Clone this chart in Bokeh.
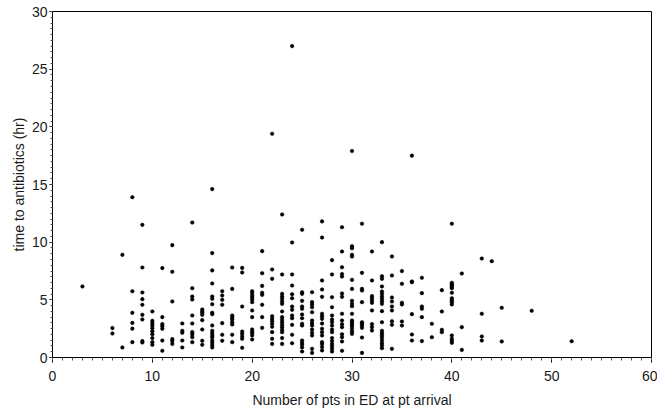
from bokeh.plotting import figure
from bokeh.models import ColumnDataSource, FixedTicker, Range1d
from bokeh.embed import file_html
from bokeh.resources import INLINE

# Number of patients in ED at patient arrival (x) and time to antibiotics in hours (y)
pts_in_ed = [
    3,
    6, 6,
    7, 7,
    8, 8, 8, 8, 8, 8,
    9, 9, 9, 9, 9, 9, 9, 9, 9,
    10, 10, 10, 10, 10, 10, 10, 10, 10, 10,
    11, 11, 11, 11, 11, 11, 11,
    12, 12, 12, 12, 12, 12,
    13, 13, 13, 13, 13,
    14, 14, 14, 14, 14, 14, 14, 14, 14, 14,
    15, 15, 15, 15, 15, 15, 15, 15,
    16, 16, 16, 16, 16, 16, 16, 16, 16, 16, 16, 16, 16, 16, 16, 16, 16, 16,
    17, 17, 17, 17, 17, 17, 17,
    18, 18, 18, 18, 18, 18, 18, 18, 18,
    19, 19, 19, 19, 19, 19, 19, 19,
    20, 20, 20, 20, 20, 20, 20, 20, 20, 20, 20, 20, 20,
    21, 21, 21, 21, 21, 21, 21, 21,
    22, 22, 22, 22, 22, 22, 22, 22, 22, 22, 22,
    23, 23, 23, 23, 23, 23, 23, 23, 23, 23, 23, 23, 23, 23, 23, 23, 23,
    24, 24, 24, 24, 24, 24, 24, 24, 24, 24, 24, 24, 24,
    25, 25, 25, 25, 25, 25, 25, 25, 25, 25, 25, 25, 25, 25, 25,
    26, 26, 26, 26, 26, 26, 26, 26, 26, 26, 26, 26, 26,
    27, 27, 27, 27, 27, 27, 27, 27, 27, 27, 27, 27, 27, 27, 27, 27,
    28, 28, 28, 28, 28, 28, 28, 28, 28, 28, 28, 28, 28, 28, 28, 28,
    29, 29, 29, 29, 29, 29, 29, 29, 29, 29, 29, 29, 29, 29, 29,
    30, 30, 30, 30, 30, 30, 30, 30, 30, 30, 30, 30, 30, 30, 30, 30, 30, 30,
    31, 31, 31, 31, 31, 31, 31, 31, 31, 31, 31,
    32, 32, 32, 32, 32, 32, 32, 32, 32, 32,
    33, 33, 33, 33, 33, 33, 33, 33, 33, 33, 33, 33, 33, 33, 33, 33, 33, 33, 33, 33,
    34, 34, 34, 34, 34, 34, 34, 34, 34,
    35, 35, 35, 35, 35, 35,
    36, 36, 36, 36, 36, 36,
    37, 37, 37, 37, 37, 37,
    38, 38,
    39, 39, 39, 39,
    40, 40, 40, 40, 40, 40, 40, 40, 40, 40, 40, 40, 40, 40, 40,
    41, 41, 41,
    43, 43, 43, 43,
    44,
    45, 45,
    48,
    52,
]

hours_to_abx = [
    6.16,
    2.55, 2.08,
    8.9, 0.87,
    13.9, 5.75, 3.87, 3.0, 2.5, 1.33,
    11.5, 7.8, 5.64, 5.06, 4.57, 3.70, 3.3, 1.42, 1.3,
    3.99, 3.18, 2.98, 2.77, 2.54, 2.28, 2.02, 1.68, 1.33, 1.10,
    7.75, 3.50, 2.89, 2.72, 2.49, 1.47, 0.58,
    9.74, 7.43, 4.86, 1.59, 1.42, 1.18,
    2.95, 2.31, 2.14, 1.47, 0.87,
    11.7, 6.01, 5.29, 5.03, 3.64, 2.95, 2.20, 1.99, 1.76, 1.33,
    4.16, 3.99, 3.87, 3.70, 3.24, 2.43, 1.45, 1.10,
    14.6, 9.05, 7.55, 6.42, 5.29, 5.09, 4.62, 3.88, 3.76, 2.78, 2.31, 2.11, 1.91, 1.73, 1.47, 1.27, 1.06, 0.87,
    5.75, 5.38, 5.0, 4.57, 2.98, 1.97, 1.45,
    7.80, 5.95, 3.64, 3.47, 3.29, 3.06, 2.86, 1.97, 1.33,
    7.77, 7.37, 4.42, 2.25, 2.05, 1.82, 1.62, 0.84,
    5.75, 5.58, 5.38, 5.20, 5.03, 4.80, 4.08, 3.50, 2.43, 2.25, 2.11, 1.91, 1.56,
    9.22, 7.31, 6.21, 5.61, 5.43, 4.57, 3.50, 2.57,
    19.4, 7.63, 6.82, 3.58, 3.35, 3.15, 2.92, 2.66, 2.20, 1.62, 1.18,
    12.4, 7.20, 5.52, 5.29, 5.09, 4.86, 4.65, 3.99, 3.50, 3.27, 3.06, 2.83, 2.63, 2.40, 2.20, 1.68, 1.18,
    27.0, 9.97, 7.20, 6.24, 5.49, 5.14, 4.42, 4.13, 3.64, 3.41, 2.83, 1.97, 1.24,
    11.07, 5.66, 5.52, 4.91, 4.42, 4.22, 3.73, 3.41, 2.92, 2.77, 1.47, 1.27, 1.10, 0.87, 0.52,
    5.66, 4.80, 4.60, 4.36, 3.93, 3.21, 2.98, 2.77, 2.43, 2.14, 1.91, 0.75, 0.40,
    11.8, 10.40, 6.68, 5.90, 5.26, 3.79, 3.58, 3.35, 2.95, 2.49, 2.20, 1.91, 1.33, 1.16, 0.90, 0.61,
    8.44, 7.20, 5.23, 4.36, 3.64, 3.29, 3.06, 2.77, 2.43, 2.20, 1.68, 1.42, 1.16, 0.98, 0.75, 0.52,
    11.3, 9.19, 7.83, 7.23, 7.02, 5.55, 5.26, 3.79, 3.21, 2.89, 2.63, 2.02, 1.76, 1.39, 0.58,
    17.9, 9.65, 9.48, 8.90, 8.76, 6.73, 5.95, 4.91, 4.65, 4.45, 3.79, 3.21, 3.06, 2.89, 2.72, 2.49, 2.25, 2.05,
    11.6, 7.34, 5.95, 5.81, 4.80, 3.06, 2.92, 2.77, 2.57, 1.73, 0.40,
    9.19, 6.68, 5.32, 5.14, 4.94, 4.74, 4.08, 2.89, 2.63, 2.34,
    10.0, 7.05, 6.82, 6.16, 5.72, 5.52, 5.29, 5.09, 4.88, 4.65, 4.02, 3.06, 2.31, 2.11, 1.91, 1.71, 1.47, 1.24, 1.04, 0.81,
    8.76, 7.11, 5.20, 4.86, 4.42, 4.08, 3.15, 2.83, 0.75,
    7.49, 6.39, 4.74, 4.60, 3.12, 2.77,
    17.5, 6.59, 6.53, 3.76, 1.99, 1.47,
    6.91, 5.58, 4.42, 4.22, 3.50, 1.42,
    2.92, 1.76,
    5.84, 3.99, 2.40, 2.20,
    11.6, 6.47, 6.36, 6.24, 6.13, 6.01, 5.61, 5.14, 4.97, 4.80, 4.60, 1.91, 1.62, 1.45, 1.27,
    7.28, 2.63, 0.66,
    8.58, 3.79, 1.82, 1.47,
    8.35,
    4.31, 1.39,
    4.05,
    1.41,
]

x_ticks = [0, 10, 20, 30, 40, 50, 60]
y_ticks = [0, 5, 10, 15, 20, 25, 30]
x_label = "Number of pts in ED at pt arrival"
y_label = "time to antibiotics (hr)"

source = ColumnDataSource(data=dict(x=pts_in_ed, y=hours_to_abx))

p = figure(
    width=657, height=413,
    output_backend="svg", toolbar_location=None,
    x_range=Range1d(0, 60), y_range=Range1d(0, 30),
    min_border_left=52, min_border_right=6,
    min_border_top=11, min_border_bottom=56,
    background_fill_color="white", border_fill_color="white",
)

p.scatter("x", "y", source=source, size=3.6, marker="circle",
          fill_color="black", line_color="black", line_width=0.5)

p.xgrid.visible = False
p.ygrid.visible = False
p.outline_line_color = "black"
p.outline_line_width = 1
p.outline_line_alpha = 1

p.xaxis.ticker = FixedTicker(ticks=x_ticks, minor_ticks=list(range(0, 61)))
p.yaxis.ticker = FixedTicker(ticks=y_ticks, minor_ticks=[i / 2 for i in range(0, 61)])

for ax in (p.xaxis, p.yaxis):
    ax.axis_line_color = "black"
    ax.major_tick_line_color = "black"
    ax.minor_tick_line_color = "#555555"
    ax.major_tick_in = 0
    ax.minor_tick_in = 0
    ax.major_label_text_font = "Liberation Sans"
    ax.major_label_text_font_size = "14px"
    ax.major_label_text_color = "#1a1a1a"
    ax.axis_label_text_font = "Liberation Sans"
    ax.axis_label_text_font_size = "14px"
    ax.axis_label_text_font_style = "normal"
    ax.axis_label_text_color = "#1a1a1a"

p.xaxis.major_tick_out = 5
p.xaxis.minor_tick_out = 3
p.xaxis.major_label_standoff = 8
p.xaxis.axis_label = x_label
p.xaxis.axis_label_standoff = 8

p.yaxis.major_tick_out = 3
p.yaxis.minor_tick_out = 2
p.yaxis.major_label_standoff = 2
p.yaxis.axis_label = y_label
p.yaxis.axis_label_standoff = 2

open("out.html", "w").write(file_html(p, INLINE))
